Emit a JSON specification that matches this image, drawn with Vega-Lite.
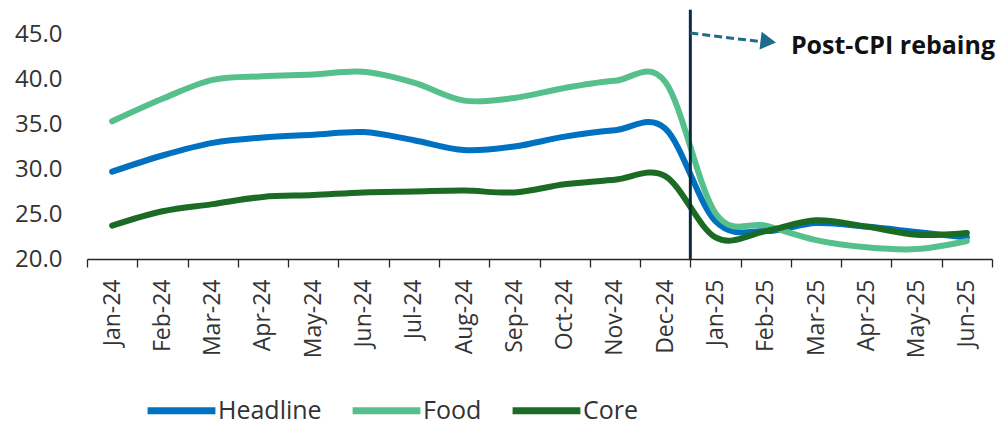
{
  "$schema": "https://vega.github.io/schema/vega-lite/v6.json",
  "width": 905,
  "height": 225,
  "autosize": {"type": "none"},
  "padding": {"left": 87, "top": 34, "right": 14, "bottom": 166},
  "background": "white",
  "config": {
    "view": {"stroke": null},
    "font": "Open Sans",
    "axis": {"labelFont": "Open Sans", "labelColor": "#333333", "title": null, "grid": false}
  },
  "datasets": {
    "cpi": [
      {"month": "Jan-24", "series": "Headline", "value": 29.7},
      {"month": "Feb-24", "series": "Headline", "value": 31.5},
      {"month": "Mar-24", "series": "Headline", "value": 32.9},
      {"month": "Apr-24", "series": "Headline", "value": 33.5},
      {"month": "May-24", "series": "Headline", "value": 33.8},
      {"month": "Jun-24", "series": "Headline", "value": 34.1},
      {"month": "Jul-24", "series": "Headline", "value": 33.2},
      {"month": "Aug-24", "series": "Headline", "value": 32.1},
      {"month": "Sep-24", "series": "Headline", "value": 32.5},
      {"month": "Oct-24", "series": "Headline", "value": 33.6},
      {"month": "Nov-24", "series": "Headline", "value": 34.3},
      {"month": "Dec-24", "series": "Headline", "value": 34.5},
      {"month": "Jan-25", "series": "Headline", "value": 24.2},
      {"month": "Feb-25", "series": "Headline", "value": 23.1},
      {"month": "Mar-25", "series": "Headline", "value": 24.0},
      {"month": "Apr-25", "series": "Headline", "value": 23.6},
      {"month": "May-25", "series": "Headline", "value": 23.0},
      {"month": "Jun-25", "series": "Headline", "value": 22.4},
      {"month": "Jan-24", "series": "Food", "value": 35.3},
      {"month": "Feb-24", "series": "Food", "value": 37.8},
      {"month": "Mar-24", "series": "Food", "value": 39.9},
      {"month": "Apr-24", "series": "Food", "value": 40.3},
      {"month": "May-24", "series": "Food", "value": 40.5},
      {"month": "Jun-24", "series": "Food", "value": 40.8},
      {"month": "Jul-24", "series": "Food", "value": 39.6},
      {"month": "Aug-24", "series": "Food", "value": 37.6},
      {"month": "Sep-24", "series": "Food", "value": 37.9},
      {"month": "Oct-24", "series": "Food", "value": 39.0},
      {"month": "Nov-24", "series": "Food", "value": 39.8},
      {"month": "Dec-24", "series": "Food", "value": 39.7},
      {"month": "Jan-25", "series": "Food", "value": 25.1},
      {"month": "Feb-25", "series": "Food", "value": 23.7},
      {"month": "Mar-25", "series": "Food", "value": 22.1},
      {"month": "Apr-25", "series": "Food", "value": 21.3},
      {"month": "May-25", "series": "Food", "value": 21.1},
      {"month": "Jun-25", "series": "Food", "value": 22.0},
      {"month": "Jan-24", "series": "Core", "value": 23.7},
      {"month": "Feb-24", "series": "Core", "value": 25.3},
      {"month": "Mar-24", "series": "Core", "value": 26.1},
      {"month": "Apr-24", "series": "Core", "value": 26.9},
      {"month": "May-24", "series": "Core", "value": 27.1},
      {"month": "Jun-24", "series": "Core", "value": 27.4},
      {"month": "Jul-24", "series": "Core", "value": 27.5},
      {"month": "Aug-24", "series": "Core", "value": 27.6},
      {"month": "Sep-24", "series": "Core", "value": 27.4},
      {"month": "Oct-24", "series": "Core", "value": 28.3},
      {"month": "Nov-24", "series": "Core", "value": 28.8},
      {"month": "Dec-24", "series": "Core", "value": 29.2},
      {"month": "Jan-25", "series": "Core", "value": 22.4},
      {"month": "Feb-25", "series": "Core", "value": 23.1},
      {"month": "Mar-25", "series": "Core", "value": 24.3},
      {"month": "Apr-25", "series": "Core", "value": 23.6},
      {"month": "May-25", "series": "Core", "value": 22.7},
      {"month": "Jun-25", "series": "Core", "value": 22.9}
    ],
    "rebase": [
      {"month": "Dec-24", "arrowEnd": "Feb-25", "labelAt": "Mar-25", "bottom": 20, "top": 47.7, "arrowY": 45.1, "arrowY2": 44.15, "labelY": 43.7, "label": "Post-CPI rebaing"}
    ]
  },
  "layer": [
    {
      "data": {"name": "cpi"},
      "mark": {"type": "line", "interpolate": "cardinal", "tension": 0, "strokeWidth": 6, "strokeCap": "round"},
      "encoding": {
        "x": {
          "field": "month",
          "type": "nominal",
          "scale": {
            "type": "band",
            "paddingInner": 0,
            "paddingOuter": 0,
            "domain": ["Jan-24", "Feb-24", "Mar-24", "Apr-24", "May-24", "Jun-24", "Jul-24", "Aug-24", "Sep-24", "Oct-24", "Nov-24", "Dec-24", "Jan-25", "Feb-25", "Mar-25", "Apr-25", "May-25", "Jun-25"]
          },
          "axis": {
            "labelAngle": 270,
            "labelFontSize": 23,
            "labelPadding": 12,
            "tickBand": "extent",
            "tickSize": 8,
            "tickColor": "#262626",
            "domainColor": "#262626",
            "domainWidth": 1.3,
            "tickWidth": 1.3
          }
        },
        "y": {
          "field": "value",
          "type": "quantitative",
          "scale": {"domain": [20, 45], "nice": false, "zero": false},
          "axis": {
            "values": [20, 25, 30, 35, 40, 45],
            "format": ".1f",
            "domain": false,
            "ticks": false,
            "labelFontSize": 24,
            "labelPadding": 25
          }
        },
        "color": {
          "field": "series",
          "type": "nominal",
          "scale": {"domain": ["Headline", "Food", "Core"], "range": ["#0070C0", "#55C08C", "#1B6B24"]},
          "legend": {
            "title": null,
            "orient": "none",
            "direction": "horizontal",
            "legendX": 57,
            "legendY": 339,
            "symbolType": "stroke",
            "symbolSize": 4600,
            "symbolStrokeWidth": 7,
            "labelFont": "Open Sans",
            "labelFontSize": 25,
            "labelColor": "#333333",
            "labelOffset": -1,
            "columnPadding": 16
          }
        }
      }
    },
    {
      "data": {"name": "rebase"},
      "mark": {"type": "rule", "color": "#0E2A43", "strokeWidth": 3},
      "encoding": {
        "x": {"field": "month", "type": "nominal", "bandPosition": 1},
        "y": {"field": "bottom", "type": "quantitative"},
        "y2": {"field": "top"}
      }
    },
    {
      "data": {"name": "rebase"},
      "mark": {"type": "rule", "color": "#1F6B8C", "strokeWidth": 3, "strokeDash": [8, 4]},
      "encoding": {
        "x": {"field": "month", "type": "nominal", "bandPosition": 1},
        "x2": {"field": "arrowEnd", "bandPosition": 0.4},
        "y": {"field": "arrowY", "type": "quantitative"},
        "y2": {"field": "arrowY2"}
      }
    },
    {
      "data": {"name": "rebase"},
      "mark": {"type": "point", "shape": "triangle-right", "filled": true, "opacity": 1, "color": "#1F6B8C", "size": 320, "angle": 7},
      "encoding": {
        "x": {"field": "arrowEnd", "type": "nominal", "bandPosition": 0.55},
        "y": {"field": "arrowY2", "type": "quantitative"}
      }
    },
    {
      "data": {"name": "rebase"},
      "mark": {"type": "text", "align": "left", "baseline": "middle", "font": "Open Sans", "fontWeight": "bold", "fontSize": 25, "color": "#111111"},
      "encoding": {
        "x": {"field": "labelAt", "type": "nominal", "bandPosition": 0},
        "y": {"field": "labelY", "type": "quantitative"},
        "text": {"field": "label"}
      }
    }
  ]
}
